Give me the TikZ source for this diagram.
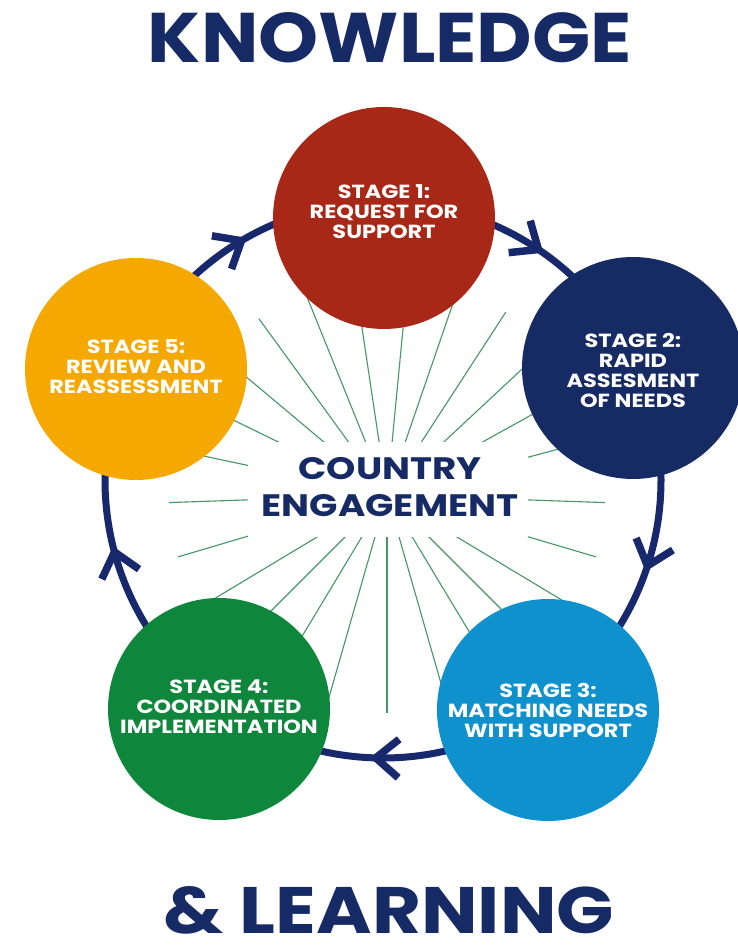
\documentclass[tikz,border=0pt]{standalone}
\usepackage{fontspec}
\newfontfamily\pop{Poppins}
\newfontfamily\popw{Poppins}[FakeStretch=1.18]
\newfontfamily\popc{Poppins}[FakeStretch=1.2]
\usetikzlibrary{calc}
\definecolor{navy}{RGB}{22,42,102}
\definecolor{ringc}{RGB}{24,40,108}
\definecolor{cred}{RGB}{168,40,24}
\definecolor{cnavy}{RGB}{22,42,100}
\definecolor{cblue}{RGB}{14,145,205}
\definecolor{cgreen}{RGB}{14,134,60}
\definecolor{cyellow}{RGB}{245,168,0}
\definecolor{rayc}{RGB}{70,150,105}
\tikzset{
  stage/.style={circle, minimum size=222pt, inner sep=0pt, draw=none},
  stagetext/.style={text=white, align=center, inner sep=0pt,
    font=\popw\bfseries\fontsize{19}{20}\selectfont},
  rayline/.style={draw=rayc, line width=1.1pt},
  ringline/.style={draw=ringc, line width=7pt},
  chevron/.style={draw=ringc, line width=7.5pt, line join=miter, line cap=butt},
  titletext/.style={text=navy, inner sep=0pt, anchor=base}
}
\begin{document}
\begin{tikzpicture}[x=1pt,y=1pt]
\useasboundingbox (0,0) rectangle (738,947);
\fill[white] (0,0) rectangle (738,947);

% titles
\node[titletext] (title) at (390,884) {\resizebox{484pt}{50pt}{\pop\bfseries KNOWLEDGE}};
\node[titletext] (subtitle) at (389,13) {\resizebox{450pt}{47pt}{\pop\bfseries \& LEARNING}};

% rays
\coordinate (ctr) at (387,452);
\foreach \a in {15,29,43,57,71,84.5,98.5,112,126,140,154,168,182,196.5,211,225,239,254,270,286,301,315,329,343.5,358}
  \draw[rayline] (ctr) -- ++(\a:218);
\fill[white] (248,410) rectangle (528,505);

% ring
\coordinate (rc) at (383,467);
\draw[ringline] (rc) circle (278);
\foreach \t in {120.6,56,-18,268.5,195}{
  \coordinate (tip) at ($(rc)+(\t:278)$);
  \draw[chevron] ($(tip)+(\t+90-40:30)$) -- (tip) -- ($(tip)+(\t+90+40:30)$);
}

% stages
\node[stage, fill=cred] (s1) at (384,729) {};
\node[stage, fill=cnavy] (s2) at (633,579) {};
\node[stage, fill=cblue] (s3) at (548,237) {};
\node[stage, fill=cgreen] (s4) at (219,238) {};
\node[stage, fill=cyellow] (s5) at (136,578) {};

\node[stagetext] (t1) at ([yshift=6]s1.center) {STAGE 1:\\REQUEST FOR\\SUPPORT};
\node[stagetext] (t2) at ([yshift=-2]s2.center) {STAGE 2:\\RAPID\\ASSESMENT\\OF NEEDS};
\node[stagetext] (t3) at (s3.center) {STAGE 3:\\MATCHING NEEDS\\WITH SUPPORT};
\node[stagetext] (t4) at ([yshift=2]s4.center) {STAGE 4:\\COORDINATED\\IMPLEMENTATION};
\node[stagetext] (t5) at ([yshift=2]s5.center) {STAGE 5:\\REVIEW AND\\REASSESSMENT};

% centre
\node[text=navy, align=center, inner sep=0pt,
  font=\popc\bfseries\fontsize{31}{37}\selectfont] (centre) at (390,460) {COUNTRY\\ENGAGEMENT};
\end{tikzpicture}
\end{document}
